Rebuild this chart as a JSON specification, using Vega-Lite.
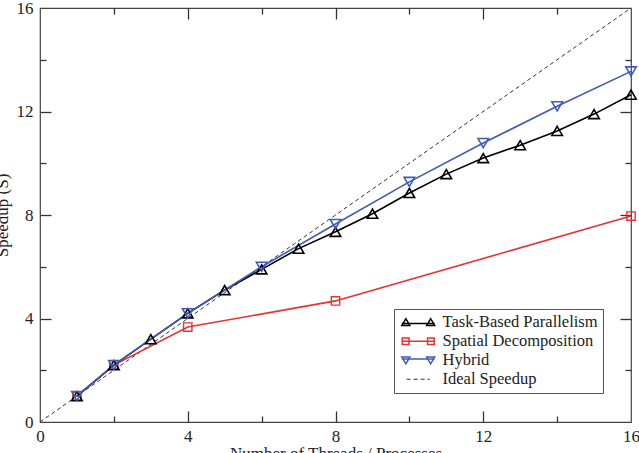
{
  "$schema": "https://vega.github.io/schema/vega-lite/v6.json",
  "width": 591,
  "height": 414,
  "autosize": {"type": "none"},
  "padding": {"left": 40, "top": 8, "right": 8, "bottom": 31},
  "background": "white",
  "config": {
    "font": "Liberation Serif",
    "view": {"stroke": "#444", "strokeWidth": 1.2},
    "axis": {
      "grid": false,
      "domain": false,
      "tickColor": "#333",
      "tickOpacity": 1,
      "tickWidth": 1.3,
      "zindex": 2,
      "labelFont": "Liberation Serif",
      "labelFontSize": 17,
      "labelColor": "#222",
      "labelFlush": false,
      "titleFont": "Liberation Serif",
      "titleFontSize": 17,
      "titleFontWeight": "normal",
      "titleColor": "#222"
    }
  },
  "datasets": {
    "speedup": [
      {"series": "Spatial Decomposition", "threads": 1, "speedup": 1.0},
      {"series": "Spatial Decomposition", "threads": 2, "speedup": 2.2},
      {"series": "Spatial Decomposition", "threads": 4, "speedup": 3.67},
      {"series": "Spatial Decomposition", "threads": 8, "speedup": 4.68},
      {"series": "Spatial Decomposition", "threads": 16, "speedup": 7.96},
      {"series": "Task-Based Parallelism", "threads": 1, "speedup": 1.0},
      {"series": "Task-Based Parallelism", "threads": 2, "speedup": 2.2},
      {"series": "Task-Based Parallelism", "threads": 3, "speedup": 3.2},
      {"series": "Task-Based Parallelism", "threads": 4, "speedup": 4.2},
      {"series": "Task-Based Parallelism", "threads": 5, "speedup": 5.1},
      {"series": "Task-Based Parallelism", "threads": 6, "speedup": 5.9},
      {"series": "Task-Based Parallelism", "threads": 7, "speedup": 6.7},
      {"series": "Task-Based Parallelism", "threads": 8, "speedup": 7.35},
      {"series": "Task-Based Parallelism", "threads": 9, "speedup": 8.05},
      {"series": "Task-Based Parallelism", "threads": 10, "speedup": 8.85},
      {"series": "Task-Based Parallelism", "threads": 11, "speedup": 9.58},
      {"series": "Task-Based Parallelism", "threads": 12, "speedup": 10.2},
      {"series": "Task-Based Parallelism", "threads": 13, "speedup": 10.7},
      {"series": "Task-Based Parallelism", "threads": 14, "speedup": 11.25},
      {"series": "Task-Based Parallelism", "threads": 15, "speedup": 11.9},
      {"series": "Task-Based Parallelism", "threads": 16, "speedup": 12.65},
      {"series": "Hybrid", "threads": 1, "speedup": 1.0},
      {"series": "Hybrid", "threads": 2, "speedup": 2.2},
      {"series": "Hybrid", "threads": 4, "speedup": 4.2},
      {"series": "Hybrid", "threads": 6, "speedup": 6.0},
      {"series": "Hybrid", "threads": 8, "speedup": 7.65},
      {"series": "Hybrid", "threads": 10, "speedup": 9.28},
      {"series": "Hybrid", "threads": 12, "speedup": 10.78},
      {"series": "Hybrid", "threads": 14, "speedup": 12.2},
      {"series": "Hybrid", "threads": 16, "speedup": 13.55}
    ],
    "ideal": [
      {"series": "Ideal Speedup", "threads": 0, "speedup": 0},
      {"series": "Ideal Speedup", "threads": 16, "speedup": 16}
    ]
  },
  "layer": [
    {
      "data": {"name": "ideal"},
      "mark": {"type": "line", "strokeWidth": 1, "strokeDash": [4, 3], "clip": true},
      "encoding": {
        "x": {
          "field": "threads", "type": "quantitative",
          "scale": {"domain": [0, 16], "nice": false},
          "axis": {
            "orient": "bottom", "values": [0, 4, 8, 12, 16], "ticks": false,
            "labelPadding": 6,
            "title": "Number of Threads / Processes",
            "titleBaseline": "alphabetic", "titleY": 36
          }
        },
        "y": {
          "field": "speedup", "type": "quantitative",
          "scale": {"domain": [0, 16], "nice": false},
          "axis": {
            "orient": "left", "values": [0, 4, 8, 12, 16], "ticks": false,
            "labelPadding": 7,
            "title": "Speedup (S)",
            "titleAngle": -90, "titleBaseline": "alphabetic",
            "titleX": -33, "titleY": 207, "titleAlign": "center"
          }
        },
        "color": {
          "field": "series", "type": "nominal",
          "scale": {
            "domain": ["Task-Based Parallelism", "Spatial Decomposition", "Hybrid", "Ideal Speedup"],
            "range": ["#000000", "#e53232", "#3f5bb5", "#333333"]
          },
          "legend": {
            "title": null,
            "orient": "none",
            "legendX": 354,
            "legendY": 301,
            "direction": "vertical",
            "strokeColor": "#555",
            "fillColor": "white",
            "padding": 5,
            "labelFont": "Liberation Serif",
            "labelFontSize": 16.5,
            "labelColor": "#222",
            "labelLimit": 300,
            "symbolSize": 256,
            "symbolStrokeWidth": 1.5,
            "symbolOffset": 11,
            "labelOffset": 16,
            "rowPadding": 2,
            "encode": {
              "symbols": {
                "update": {
                  "shape": {"signal": "datum.value === 'Task-Based Parallelism' ? 'M-2.05,0.15H2.05M-1.55,-0.45L-1.05,0.4L-2.05,0.4ZM1.55,-0.45L2.05,0.4L1.05,0.4Z' : datum.value === 'Spatial Decomposition' ? 'M-2.05,0H2.05M-2,-0.42H-1.16V0.42H-2ZM1.16,-0.42H2V0.42H1.16Z' : datum.value === 'Hybrid' ? 'M-2.05,-0.15H2.05M-1.55,0.45L-1.05,-0.4L-2.05,-0.4ZM1.55,0.45L2.05,-0.4L1.05,-0.4Z' : 'M-1.45,0H1.45'"},
                  "strokeDash": {"signal": "datum.value === 'Ideal Speedup' ? [4, 3] : [1, 0]"},
                  "strokeWidth": {"signal": "datum.value === 'Ideal Speedup' ? 1 : 1.5"},
                  "fill": {"value": "transparent"}
                }
              }
            }
          }
        }
      }
    },
    {
      "data": {"name": "speedup"},
      "mark": {"type": "line", "strokeWidth": 1.6},
      "encoding": {
        "x": {
          "field": "threads", "type": "quantitative",
          "axis": {"orient": "top", "values": [4, 8, 12], "ticks": true, "tickSize": 11, "offset": -11, "labels": false, "title": null}
        },
        "y": {
          "field": "speedup", "type": "quantitative",
          "axis": {"orient": "right", "values": [4, 8, 12], "ticks": true, "tickSize": 11, "offset": -11, "labels": false, "title": null}
        },
        "color": {"field": "series", "type": "nominal", "legend": null}
      }
    },
    {
      "data": {"name": "speedup"},
      "transform": [{"filter": "datum.series === 'Spatial Decomposition'"}],
      "mark": {"type": "point", "shape": "square", "size": 70, "strokeWidth": 1.4, "filled": false, "opacity": 1},
      "encoding": {
        "x": {
          "field": "threads", "type": "quantitative",
          "axis": {"orient": "top", "values": [2, 6, 10, 14], "ticks": true, "tickSize": 6, "offset": -6, "labels": false, "title": null}
        },
        "y": {
          "field": "speedup", "type": "quantitative",
          "axis": {"orient": "right", "values": [2, 6, 10, 14], "ticks": true, "tickSize": 6, "offset": -6, "labels": false, "title": null}
        },
        "color": {"field": "series", "type": "nominal", "legend": null}
      }
    },
    {
      "data": {"name": "speedup"},
      "transform": [{"filter": "datum.series === 'Task-Based Parallelism'"}],
      "mark": {"type": "point", "shape": "triangle-up", "size": 110, "strokeWidth": 1.6, "filled": false, "opacity": 1},
      "encoding": {
        "x": {
          "field": "threads", "type": "quantitative",
          "axis": {"orient": "bottom", "values": [4, 8, 12], "ticks": true, "tickSize": 11, "offset": -11, "labels": false, "title": null}
        },
        "y": {
          "field": "speedup", "type": "quantitative",
          "axis": {"orient": "left", "values": [4, 8, 12], "ticks": true, "tickSize": 11, "offset": -11, "labels": false, "title": null}
        },
        "color": {"field": "series", "type": "nominal", "legend": null}
      }
    },
    {
      "data": {"name": "speedup"},
      "transform": [{"filter": "datum.series === 'Hybrid'"}],
      "mark": {"type": "point", "shape": "triangle-down", "size": 110, "strokeWidth": 1.6, "filled": false, "opacity": 1},
      "encoding": {
        "x": {
          "field": "threads", "type": "quantitative",
          "axis": {"orient": "bottom", "values": [2, 6, 10, 14], "ticks": true, "tickSize": 6, "offset": -6, "labels": false, "title": null}
        },
        "y": {
          "field": "speedup", "type": "quantitative",
          "axis": {"orient": "left", "values": [2, 6, 10, 14], "ticks": true, "tickSize": 6, "offset": -6, "labels": false, "title": null}
        },
        "color": {"field": "series", "type": "nominal", "legend": null}
      }
    }
  ],
  "resolve": {"axis": {"x": "independent", "y": "independent"}}
}
